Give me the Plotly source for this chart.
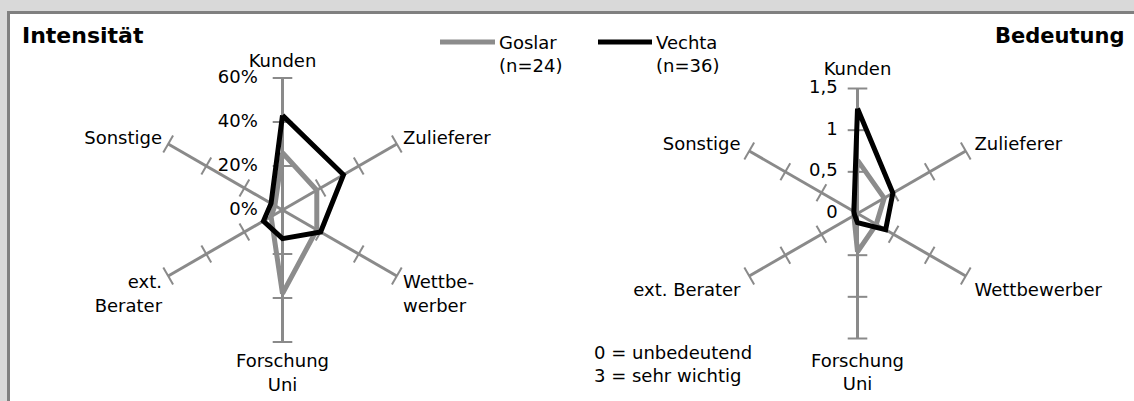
import plotly.graph_objects as go

# categories (same order on both charts, clockwise from top)
categories = ["Kunden", "Zulieferer", "Wettbewerber", "Forschung Uni", "ext. Berater", "Sonstige"]
labels_left = ["Kunden", "Zulieferer", "Wettbe-<br>werber", "Forschung<br>Uni", "ext.<br>Berater", "Sonstige"]
labels_right = ["Kunden", "Zulieferer", "Wettbewerber", "Forschung<br>Uni", "ext. Berater", "Sonstige"]

# Intensität in %
goslar_int = [26, 18, 18, 38, 6, 4]
vechta_int = [43, 32, 20, 13, 10, 6]

# Bedeutung (0 = unbedeutend, 3 = sehr wichtig)
goslar_bed = [0.64, 0.37, 0.26, 0.46, 0.05, 0.05]
vechta_bed = [1.26, 0.49, 0.39, 0.11, 0.04, 0.05]

ticks_left = [0, 20, 40, 60]
ticks_right = [0, 0.5, 1, 1.5]
ticktext_left = ["0%", "20%", "40%", "60%"]
ticktext_right = ["0", "0,5", "1", "1,5"]

series_names = ["Goslar<br>(n=24)", "Vechta<br>(n=36)"]
GREY = "#8c8c8c"
AXIS = "#8a8a8a"
BLACK = "#000000"
FONT = "DejaVu Sans"

W, H = 1134, 401


def px(x):
    return x / W


def py(y):
    return 1 - y / H


def closed(vals):
    return list(vals) + [vals[0]]


fig = go.Figure()

# little cross ticks on every spoke
for sub, ticks in (("polar", ticks_left), ("polar2", ticks_right)):
    th, rr, ang = [], [], []
    for i, c in enumerate(categories):
        for t in ticks[1:]:
            th.append(c)
            rr.append(t)
            ang.append(60 * i)
    fig.add_trace(go.Scatterpolar(
        r=rr, theta=th, mode="markers", subplot=sub, showlegend=False, hoverinfo="skip",
        marker=dict(symbol="line-ew", size=14, angle=ang, line=dict(color=AXIS, width=2)),
    ))

# radial tick labels along the Kunden spoke
for sub, ticks, texts in (("polar", ticks_left, ticktext_left), ("polar2", ticks_right, ticktext_right)):
    fig.add_trace(go.Scatterpolar(
        r=ticks, theta=[categories[0]] * len(ticks), mode="markers+text", text=texts,
        textposition="middle left", subplot=sub, showlegend=False, hoverinfo="skip",
        marker=dict(size=38 if sub == "polar" else 30, opacity=0),
        textfont=dict(family=FONT, size=18, color="black"),
    ))

for sub, vals, name, color in (
    ("polar", goslar_int, series_names[0], GREY),
    ("polar", vechta_int, series_names[1], BLACK),
    ("polar2", goslar_bed, series_names[0], GREY),
    ("polar2", vechta_bed, series_names[1], BLACK),
):
    fig.add_trace(go.Scatterpolar(
        r=closed(vals), theta=closed(categories), mode="lines", subplot=sub,
        name=name, showlegend=False, line=dict(color=color, width=5),
    ))


def polar_layout(x0, x1, y0, y1, rng, ticks, labels, ticklen):
    return dict(
        domain=dict(x=[px(x0), px(x1)], y=[py(y1), py(y0)]),
        bgcolor="rgba(0,0,0,0)",
        radialaxis=dict(
            range=rng, tickvals=ticks, angle=90, showticklabels=False,
            showline=False, showgrid=False, ticks="",
        ),
        angularaxis=dict(
            type="category", categoryarray=categories, rotation=90, direction="clockwise",
            tickmode="array", tickvals=categories, ticktext=labels,
            showline=False, showgrid=True, gridcolor=AXIS, gridwidth=2.5,
            ticks="outside", ticklen=ticklen, tickcolor="rgba(0,0,0,0)",
            tickfont=dict(family=FONT, size=18, color="black"),
        ),
    )


fig.update_layout(
    width=W, height=H, autosize=False,
    margin=dict(l=0, r=0, t=0, b=0),
    paper_bgcolor="#d9d9d9",
    separators=", ",
    font=dict(family=FONT, size=18, color="black"),
    polar=polar_layout(150.5, 414.5, 78, 342, [0, 60], ticks_left, labels_left, 3),
    polar2=polar_layout(732.5, 982.5, 88.5, 338.5, [0, 1.5], ticks_right, labels_right, 6),
)

# white chart area with grey frame (cut at right and bottom)
fig.add_shape(type="rect", xref="paper", yref="paper", layer="below",
              x0=px(8.5), x1=1.02, y0=-0.05, y1=py(12.5),
              fillcolor="white", line=dict(color="#808080", width=3))

# legend drawn by hand
for (x0, x1, color, name) in ((440, 495, GREY, series_names[0]), (598, 652, BLACK, series_names[1])):
    fig.add_shape(type="line", xref="paper", yref="paper", x0=px(x0), x1=px(x1),
                  y0=py(42), y1=py(42), line=dict(color=color, width=5))
    fig.add_annotation(text=name, xref="paper", yref="paper", x=px(x1 + 2), y=py(30),
                       xanchor="left", yanchor="top", align="left", showarrow=False,
                       font=dict(family=FONT, size=18))

fig.add_annotation(text="<b>Intensität</b>", xref="paper", yref="paper", x=px(20), y=py(36),
                   xanchor="left", yanchor="middle", showarrow=False, font=dict(family=FONT, size=22))
fig.add_annotation(text="<b>Bedeutung</b>", xref="paper", yref="paper", x=px(1126), y=py(36),
                   xanchor="right", yanchor="middle", showarrow=False, font=dict(family=FONT, size=21))
fig.add_annotation(text="0 = unbedeutend<br>3 = sehr wichtig", xref="paper", yref="paper",
                   x=px(592), y=py(340), xanchor="left", yanchor="top", align="left",
                   showarrow=False, font=dict(family=FONT, size=18))

fig.write_html("out.html", config={"displayModeBar": False},
               post_script="document.body.style.margin='0';")
